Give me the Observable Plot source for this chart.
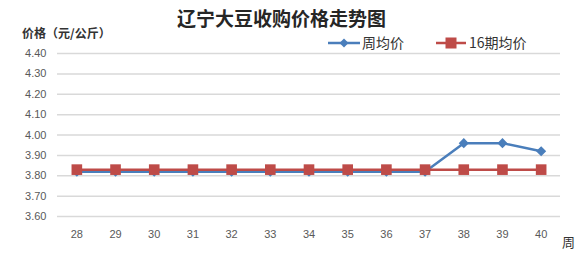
<!DOCTYPE html>
<html><head><meta charset="utf-8">
<script src="https://cdn.jsdelivr.net/npm/d3@7"></script>
<script src="https://cdn.jsdelivr.net/npm/@observablehq/plot@0.6"></script>
<style>
body{margin:0;background:#fff;}
#wrap{position:relative;width:588px;height:272px;font-family:"Noto Sans CJK SC","Noto Sans",sans-serif;}
.abs{position:absolute;white-space:nowrap;}
</style></head>
<body><div id="wrap"></div>
<script>
const weeks = [28,29,30,31,32,33,34,35,36,37,38,39,40];
const weeklyAvg = [3.82,3.82,3.82,3.82,3.82,3.82,3.82,3.82,3.82,3.82,3.96,3.96,3.92];
const avg16 = [3.83,3.83,3.83,3.83,3.83,3.83,3.83,3.83,3.83,3.83,3.83,3.83,3.83];
const yTicks = [3.6,3.7,3.8,3.9,4.0,4.1,4.2,4.3,4.4];
const seriesNames = ["周均价","16期均价"];
const colors = ["#4a7ebb","#be4b48"];

const blue = weeks.map((w,i)=>({w, v: weeklyAvg[i]}));
const red = weeks.map((w,i)=>({w, v: avg16[i]}));

const chart = Plot.plot({
  width:588, height:272,
  marginLeft:57, marginRight:28, marginTop:53, marginBottom:56,
  style:{fontFamily:"'Liberation Sans',Arial,sans-serif", fontSize:"11px", color:"#595959", background:"transparent"},
  x:{type:"linear", domain:[27.5,40.5], ticks:weeks, tickFormat:d=>String(d), label:null, tickSize:0, tickPadding:14},
  y:{domain:[3.6,4.4], ticks:yTicks, tickFormat:d=>d.toFixed(2), label:null, tickSize:0, tickPadding:11},
  marks:[
    Plot.ruleY(yTicks,{stroke:"#d9d9d9", strokeWidth:1.5}),
    Plot.line(blue,{x:"w", y:"v", stroke:colors[0], strokeWidth:2.5}),
    Plot.dot(blue,{x:"w", y:"v", symbol:"diamond2", r:3.6, fill:colors[0], stroke:colors[0]}),
    Plot.line(red,{x:"w", y:"v", stroke:colors[1], strokeWidth:2.5}),
    Plot.dot(red,{x:"w", y:"v", symbol:"square", r:6, fill:colors[1], stroke:"none"})
  ]
});
const wrap = document.getElementById("wrap");
chart.style.position="absolute"; chart.style.left="0"; chart.style.top="0";
wrap.appendChild(chart);

function addText(txt, css){
  const d=document.createElement("div"); d.className="abs"; d.textContent=txt;
  Object.assign(d.style, css); wrap.appendChild(d); return d;
}
addText("辽宁大豆收购价格走势图",{left:"177px",top:"4px",fontSize:"19px",lineHeight:"27px",fontWeight:"bold",color:"#262626",fontFamily:"'Noto Sans CJK SC',serif"});
addText("价格（元/公斤）",{left:"22px",top:"24px",fontSize:"12px",fontWeight:"bold",color:"#333"});
addText("周",{left:"562px",top:"232px",fontSize:"13px",color:"#333"});

// legend
const leg = document.createElementNS("http://www.w3.org/2000/svg","svg");
leg.setAttribute("width","588"); leg.setAttribute("height","272");
leg.style.position="absolute"; leg.style.left="0"; leg.style.top="0";
wrap.appendChild(leg);
const NS="http://www.w3.org/2000/svg";
function el(n,a){const e=document.createElementNS(NS,n);for(const k in a)e.setAttribute(k,a[k]);leg.appendChild(e);return e;}
el("line",{x1:328,x2:360,y1:43,y2:43,stroke:colors[0],"stroke-width":2.5});
el("path",{d:"M344,38.5L348.5,43L344,47.5L339.5,43Z",fill:colors[0]});
const t1=el("text",{x:362,y:48,"font-size":"14px",fill:"#333","font-family":"'Noto Sans CJK SC',sans-serif"}); t1.textContent=seriesNames[0];
el("line",{x1:436,x2:466,y1:43,y2:43,stroke:colors[1],"stroke-width":2.5});
el("rect",{x:445.5,y:37.5,width:11,height:11,fill:colors[1]});
const t2=el("text",{x:469,y:48,"font-size":"14px",fill:"#333","font-family":"'Noto Sans CJK SC',sans-serif"}); t2.textContent=seriesNames[1];
</script></body></html>
